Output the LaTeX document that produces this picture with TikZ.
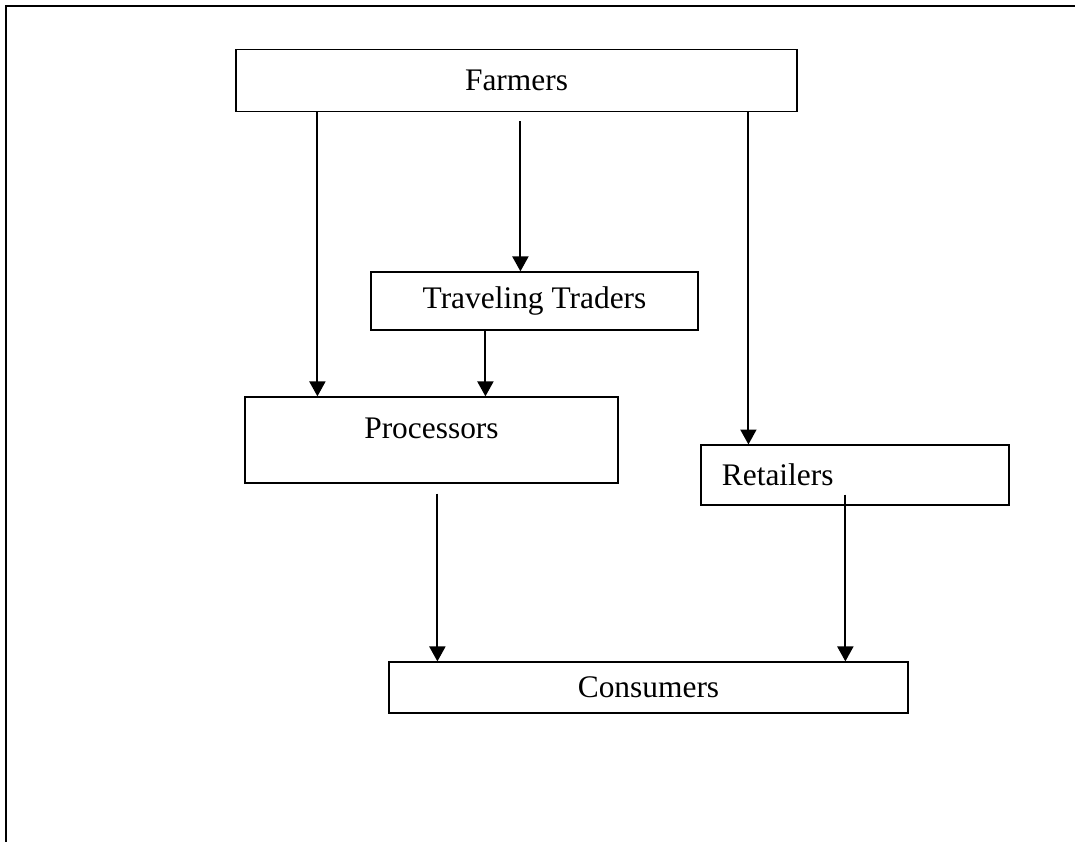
\documentclass[tikz,border=0pt]{standalone}
\usepackage{fontspec}
\setmainfont{Liberation Serif}
\usetikzlibrary{calc,arrows.meta}

\begin{document}
\begin{tikzpicture}[x=0.382pt, y=-0.382pt,
        chainbox/.style={rectangle, draw=black, line width=0.45pt, inner sep=0pt, font=\fontsize{12}{14}\selectfont},
        flow/.style={line width=0.75pt, -{Triangle[length=5.7pt,width=6.1pt]}}]

        \useasboundingbox (0,0) rectangle (1075,842);
        \draw[line width=0.8pt] (1075,6) -- (6,6) -- (6,842);

        \node[chainbox, minimum width=214.3pt, minimum height=23.7pt] (farmers) at (516.5,80.5) {Farmers};
        \node[chainbox, minimum width=124.9pt, minimum height=22.2pt] (traders) at (534.5,301) {Traveling Traders};
        \node[chainbox, minimum width=142.5pt, minimum height=32.9pt, text height=8pt, text depth=9pt] (procs) at (431.5,440) {Processors};
        \node[chainbox, minimum width=117.7pt, minimum height=22.9pt, inner xsep=8pt, text width=101.7pt, align=left] (retail) at (855,475) {Retailers};
        \node[chainbox, minimum width=198.3pt, minimum height=19.5pt] (cons) at (648.5,687.5) {Consumers};

        \draw[flow] ($(farmers.south west)+(82,0)$) coordinate (f1) -- (f1 |- procs.north);
        \draw[flow] ($(farmers.south west)+(285,9)$) coordinate (f2) -- (f2 |- traders.north);
        \draw[flow] ($(farmers.south west)+(513,0)$) coordinate (f3) -- (f3 |- retail.north);
        \draw[flow] ($(traders.south west)+(115,0)$) coordinate (t1) -- (t1 |- procs.north);
        \draw[flow] ($(procs.south west)+(193,10)$) coordinate (p1) -- (p1 |- cons.north);
        \draw[flow] ($(retail.south west)+(145,-11)$) coordinate (r1) -- (r1 |- cons.north);

\end{tikzpicture}
\end{document}
